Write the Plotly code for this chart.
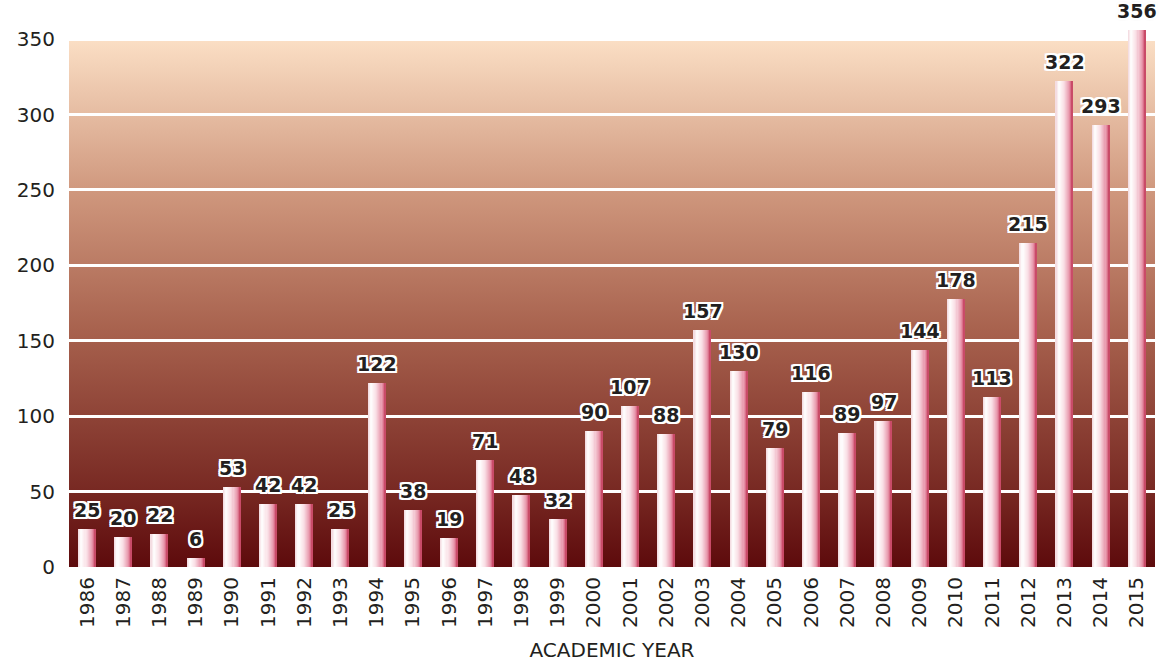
import base64
import plotly.graph_objects as go

# Degrees per academic year
years = [str(y) for y in range(1986, 2016)]
counts = [25, 20, 22, 6, 53, 42, 42, 25, 122, 38, 19, 71, 48, 32, 90,
          107, 88, 157, 130, 79, 116, 89, 97, 144, 178, 113, 215, 322, 293, 356]
y_ticks = [0, 50, 100, 150, 200, 250, 300, 350]

FONT = "DejaVu Sans"
INK = "#231f20"

# Vertical peach-to-maroon backdrop, as an SVG gradient
bg_svg = """<svg xmlns='http://www.w3.org/2000/svg' width='10' height='100' preserveAspectRatio='none'>
<defs><linearGradient id='g' x1='0' y1='0' x2='0' y2='1'>
<stop offset='0' stop-color='#fbdfc5'/>
<stop offset='0.29' stop-color='#cf977d'/>
<stop offset='0.55' stop-color='#a8624e'/>
<stop offset='0.86' stop-color='#772822'/>
<stop offset='1' stop-color='#5d0a0c'/>
</linearGradient></defs>
<rect width='10' height='100' fill='url(#g)'/></svg>"""
bg_uri = "data:image/svg+xml;base64," + base64.b64encode(bg_svg.encode()).decode()

# Horizontal shading of each bar, built from thin side-by-side slices
stops = [(0.0, (242, 214, 220)), (0.18, (255, 255, 255)), (0.5, (249, 222, 228)),
         (0.82, (232, 152, 172)), (0.93, (214, 100, 128)), (1.0, (190, 55, 85))]


def shade(t):
    for (t0, c0), (t1, c1) in zip(stops, stops[1:]):
        if t <= t1:
            f = (t - t0) / (t1 - t0) if t1 > t0 else 0
            return "rgb(%d,%d,%d)" % tuple(round(a + (b - a) * f) for a, b in zip(c0, c1))
    return "rgb(%d,%d,%d)" % stops[-1][1]


bar_w = 0.47
n_slices = 16
slice_w = bar_w / n_slices

fig = go.Figure()
for i in range(n_slices):
    fig.add_trace(go.Bar(
        x=years, y=counts,
        width=slice_w * 1.08,
        offset=-bar_w / 2 + i * slice_w,
        marker=dict(color=shade((i + 0.5) / n_slices), line=dict(width=0)),
        hoverinfo="skip", showlegend=False,
    ))

# Value labels above the bars (x given as category index)
for idx, v in enumerate(counts):
    fig.add_annotation(
        x=idx, y=v, xref="x", yref="y", text=str(v), showarrow=False,
        yanchor="bottom", yshift=6,
        font=dict(family=FONT, size=19, color=INK, weight="bold",
                  shadow="2px 0 0 #fff, -2px 0 0 #fff, 0 2px 0 #fff, 0 -2px 0 #fff, "
                         "2px 2px 0 #fff, -2px -2px 0 #fff, 2px -2px 0 #fff, -2px 2px 0 #fff, "
                         "0 0 3px #999"),
    )

fig.add_layout_image(
    source=bg_uri, xref="paper", yref="y", x=0, y=350,
    sizex=1, sizey=350, sizing="stretch", xanchor="left", yanchor="top",
    layer="below",
)

fig.update_layout(
    width=1171, height=662,
    margin=dict(l=69, r=16, t=9, b=95),
    paper_bgcolor="white", plot_bgcolor="white",
    barmode="overlay", bargap=0,
    font=dict(family=FONT, color=INK),
    xaxis=dict(
        type="category", categoryorder="array", categoryarray=years,
        range=[-0.5, len(years) - 0.5], autorange=False, automargin=False,
        tickangle=-90, showgrid=False, zeroline=False,
        showline=False, ticks="", ticklabelstandoff=5,
        tickfont=dict(size=20, color=INK),
        title=dict(text="ACADEMIC YEAR", font=dict(size=20, color=INK),
                   standoff=17),
    ),
    yaxis=dict(
        range=[0, 370], tickvals=y_ticks, showgrid=True, gridcolor="white",
        gridwidth=3, zeroline=False, showline=False, ticks="", automargin=False,
        ticklabelstandoff=13,
        tickfont=dict(size=20, color=INK),
    ),
)

fig.write_html("out.html")
